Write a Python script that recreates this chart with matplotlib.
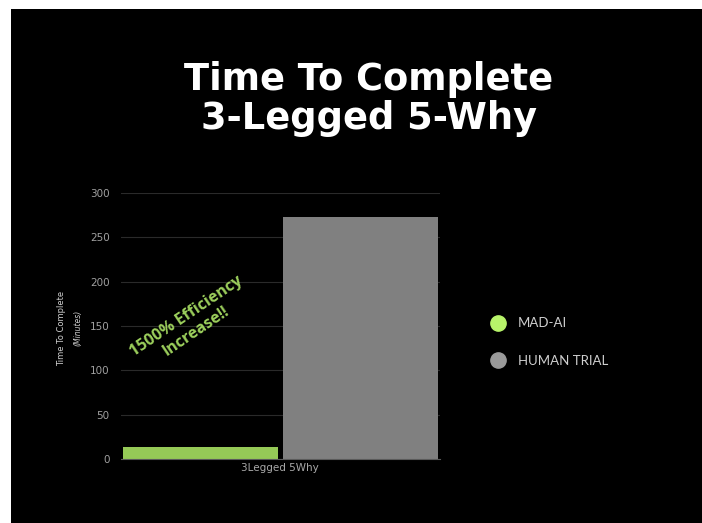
import matplotlib.pyplot as plt
from matplotlib.patches import Rectangle
from matplotlib.lines import Line2D

series = ["MAD-AI", "HUMAN TRIAL"]
minutes = [14, 273]
category = "3Legged 5Why"
bar_colors = ["#95c957", "#808080"]
dot_colors = ["#b8f46a", "#9a9a9a"]
yticks = [0, 50, 100, 150, 200, 250, 300]

W, H = 702, 523
fig = plt.figure(figsize=(W / 100, H / 100), dpi=100, facecolor="white")

# black slide background (white strip on left/top)
fig.patches.append(Rectangle((11 / W, 0), 1, (H - 9) / H, transform=fig.transFigure,
                             facecolor="black", edgecolor="none", zorder=-10))

fig.text(369 / W, 1 - 99 / H, "Time To Complete\n3-Legged 5-Why", ha="center", va="center",
         color="white", fontsize=26.5, fontweight="bold", family="DejaVu Sans", linespacing=1.05)

ax = fig.add_axes([120.7 / W, 64 / H, 319.3 / W, 266 / H])
ax.set_facecolor("black")
xs = [0, 1]
ax.bar(xs, minutes, width=0.972, color=bar_colors, zorder=3)
ax.set_xlim(-0.5, 1.5)
ax.set_ylim(0, 300)
ax.set_yticks(yticks)
ax.set_xticks([0.5])
ax.set_xticklabels([category])
ax.tick_params(axis="y", length=0, colors="#a0a0a0", labelsize=7.5, pad=8)
ax.tick_params(axis="x", length=0, colors="#a8a8a8", labelsize=7.5, pad=3)
ax.grid(axis="y", color="#2a2a2a", linewidth=0.8, zorder=0)
for s in ["top", "right", "left"]:
    ax.spines[s].set_visible(False)
ax.spines["bottom"].set_color("#5a5a5a")
ax.spines["bottom"].set_zorder(4)

fig.text(62 / W, 1 - 328 / H, "Time To Complete", rotation=90, ha="center", va="center",
         color="#d0d0d0", fontsize=6, family="Liberation Sans Narrow")
fig.text(78 / W, 1 - 328 / H, "(Minutes)", rotation=90, ha="center", va="center",
         color="#d0d0d0", fontsize=5.5, style="italic", family="Liberation Sans Narrow")

fig.text(191 / W, 1 - 324 / H, "1500% Efficiency\nIncrease!!", rotation=34, ha="center",
         va="center", color="#9ccf5c", fontsize=11.5, fontweight="bold", family="Open Sans",
         linespacing=1.1, rotation_mode="anchor")

handles = [Line2D([], [], marker="o", linestyle="none", markersize=11,
                  markerfacecolor=c, markeredgecolor=c) for c in dot_colors]
leg = fig.legend(handles, series, loc="center left", bbox_to_anchor=(478 / W, 1 - 342 / H),
                 frameon=False, labelcolor="#cfcfcf", prop={"family": "Lato", "size": 9.5},
                 labelspacing=1.9, handletextpad=0.9, handlelength=1.2)

fig.savefig("out.png", dpi=100, facecolor="white")
